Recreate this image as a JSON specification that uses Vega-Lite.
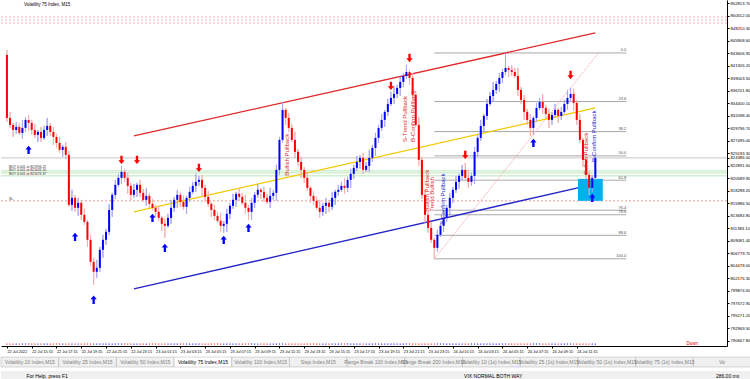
{
"$schema":"https://vega.github.io/schema/vega-lite/v6.json",
"padding":0,
"background":"#ffffff",
"spacing":3,
"config":{"view":{"stroke":null},"font":"Liberation Sans","text":{"font":"Liberation Sans"},
 "axis":{"grid":false,"labelFont":"Liberation Sans","labelColor":"#000000","tickColor":"#000000","domainColor":"#000000","domainWidth":1,"tickSize":2,"labelPadding":1,"labelFlush":false,"labelOverlap":false}},
"datasets":{
"candles":[
{"i":0,"o":843338,"h":844258,"l":831010,"c":831746},
{"i":1,"o":831746,"h":832850,"l":829906,"c":830458},
{"i":2,"o":830458,"h":830826,"l":828250,"c":829538},
{"i":3,"o":829538,"h":831010,"l":828802,"c":830090},
{"i":4,"o":830090,"h":830826,"l":828618,"c":828986},
{"i":5,"o":828986,"h":831378,"l":827882,"c":829906},
{"i":6,"o":829906,"h":831930,"l":829170,"c":831378},
{"i":7,"o":831378,"h":832298,"l":829354,"c":830826},
{"i":8,"o":830826,"h":831378,"l":828618,"c":829538},
{"i":9,"o":829538,"h":830642,"l":828066,"c":828618},
{"i":10,"o":828618,"h":829538,"l":827330,"c":829170},
{"i":11,"o":829170,"h":830090,"l":827330,"c":828066},
{"i":12,"o":828066,"h":830274,"l":827698,"c":829538},
{"i":13,"o":829538,"h":831746,"l":828434,"c":830274},
{"i":14,"o":830274,"h":830826,"l":828434,"c":829170},
{"i":15,"o":829170,"h":830090,"l":826778,"c":828250},
{"i":16,"o":828250,"h":828802,"l":826226,"c":827146},
{"i":17,"o":827146,"h":828250,"l":825306,"c":825858},
{"i":18,"o":825858,"h":826778,"l":824570,"c":826410},
{"i":19,"o":826410,"h":827330,"l":824202,"c":824938},
{"i":20,"o":824938,"h":825674,"l":815370,"c":815738},
{"i":21,"o":815738,"h":818498,"l":814634,"c":817026},
{"i":22,"o":817026,"h":817578,"l":814450,"c":815186},
{"i":23,"o":815186,"h":817026,"l":813714,"c":816106},
{"i":24,"o":816106,"h":816658,"l":812978,"c":813898},
{"i":25,"o":813898,"h":815002,"l":812058,"c":812610},
{"i":26,"o":812610,"h":812978,"l":808010,"c":809298},
{"i":27,"o":809298,"h":810218,"l":804514,"c":805250},
{"i":28,"o":805250,"h":805986,"l":801018,"c":803410},
{"i":29,"o":803410,"h":805618,"l":802306,"c":804146},
{"i":30,"o":804146,"h":808010,"l":803410,"c":807458},
{"i":31,"o":807458,"h":810218,"l":805986,"c":809298},
{"i":32,"o":809298,"h":811322,"l":808378,"c":810770},
{"i":33,"o":810770,"h":815922,"l":810218,"c":814818},
{"i":34,"o":814818,"h":817946,"l":813530,"c":817578},
{"i":35,"o":817578,"h":820338,"l":816842,"c":819418},
{"i":36,"o":819418,"h":821442,"l":819050,"c":820706},
{"i":37,"o":820706,"h":822914,"l":819602,"c":821810},
{"i":38,"o":821810,"h":822362,"l":819970,"c":820706},
{"i":39,"o":820706,"h":821626,"l":817762,"c":819234},
{"i":40,"o":819234,"h":819786,"l":816658,"c":817578},
{"i":41,"o":817578,"h":819602,"l":817026,"c":818498},
{"i":42,"o":818498,"h":819786,"l":817210,"c":819418},
{"i":43,"o":819418,"h":820338,"l":817210,"c":817946},
{"i":44,"o":817946,"h":818682,"l":816290,"c":816658},
{"i":45,"o":816658,"h":818866,"l":815554,"c":817394},
{"i":46,"o":817394,"h":817946,"l":815186,"c":815922},
{"i":47,"o":815922,"h":816842,"l":814818,"c":815186},
{"i":48,"o":815186,"h":815738,"l":813530,"c":814450},
{"i":49,"o":814450,"h":815554,"l":812794,"c":813346},
{"i":50,"o":813346,"h":813714,"l":810954,"c":812242},
{"i":51,"o":812242,"h":813162,"l":809666,"c":811874},
{"i":52,"o":811874,"h":814082,"l":811506,"c":813346},
{"i":53,"o":813346,"h":816658,"l":812242,"c":815186},
{"i":54,"o":815186,"h":817210,"l":814450,"c":816658},
{"i":55,"o":816658,"h":818498,"l":815186,"c":817578},
{"i":56,"o":817578,"h":818130,"l":815370,"c":816290},
{"i":57,"o":816290,"h":817394,"l":814818,"c":815370},
{"i":58,"o":815370,"h":817394,"l":814082,"c":817026},
{"i":59,"o":817026,"h":819050,"l":816290,"c":818130},
{"i":60,"o":818130,"h":819970,"l":817762,"c":819234},
{"i":61,"o":819234,"h":821442,"l":818130,"c":819970},
{"i":62,"o":819970,"h":821074,"l":819234,"c":820338},
{"i":63,"o":820338,"h":821258,"l":817394,"c":818866},
{"i":64,"o":818866,"h":819418,"l":816290,"c":817210},
{"i":65,"o":817210,"h":818314,"l":815370,"c":815922},
{"i":66,"o":815922,"h":816290,"l":813530,"c":814818},
{"i":67,"o":814818,"h":815738,"l":812978,"c":813714},
{"i":68,"o":813714,"h":814450,"l":812426,"c":812794},
{"i":69,"o":812794,"h":814266,"l":810770,"c":811874},
{"i":70,"o":811874,"h":812794,"l":810586,"c":812242},
{"i":71,"o":812242,"h":815002,"l":810770,"c":814082},
{"i":72,"o":814082,"h":816106,"l":813162,"c":815554},
{"i":73,"o":815554,"h":817762,"l":815002,"c":816658},
{"i":74,"o":816658,"h":818130,"l":815370,"c":817762},
{"i":75,"o":817762,"h":818682,"l":816474,"c":817210},
{"i":76,"o":817210,"h":817946,"l":815738,"c":816106},
{"i":77,"o":816106,"h":817578,"l":814082,"c":815186},
{"i":78,"o":815186,"h":815738,"l":812978,"c":814450},
{"i":79,"o":814450,"h":817026,"l":812978,"c":816106},
{"i":80,"o":816106,"h":818130,"l":815186,"c":817578},
{"i":81,"o":817578,"h":819602,"l":817026,"c":818498},
{"i":82,"o":818498,"h":818866,"l":816842,"c":818130},
{"i":83,"o":818130,"h":819050,"l":816290,"c":817026},
{"i":84,"o":817026,"h":817762,"l":815922,"c":816290},
{"i":85,"o":816290,"h":818866,"l":815186,"c":817394},
{"i":86,"o":817394,"h":818498,"l":816658,"c":817946},
{"i":87,"o":817946,"h":823098,"l":816474,"c":822178},
{"i":88,"o":822178,"h":828250,"l":821258,"c":827698},
{"i":89,"o":827698,"h":834690,"l":827146,"c":833218},
{"i":90,"o":833218,"h":833586,"l":830458,"c":831746},
{"i":91,"o":831746,"h":832666,"l":829170,"c":829906},
{"i":92,"o":829906,"h":830642,"l":827330,"c":827698},
{"i":93,"o":827698,"h":829170,"l":824386,"c":825490},
{"i":94,"o":825490,"h":826042,"l":822914,"c":823650},
{"i":95,"o":823650,"h":824570,"l":820706,"c":822178},
{"i":96,"o":822178,"h":822730,"l":819786,"c":820706},
{"i":97,"o":820706,"h":821810,"l":818314,"c":818866},
{"i":98,"o":818866,"h":819234,"l":816106,"c":817394},
{"i":99,"o":817394,"h":818314,"l":815738,"c":816474},
{"i":100,"o":816474,"h":817210,"l":814818,"c":815186},
{"i":101,"o":815186,"h":816658,"l":813346,"c":814450},
{"i":102,"o":814450,"h":816106,"l":813714,"c":815554},
{"i":103,"o":815554,"h":817026,"l":814082,"c":816106},
{"i":104,"o":816106,"h":816658,"l":814450,"c":815370},
{"i":105,"o":815370,"h":818130,"l":814818,"c":817026},
{"i":106,"o":817026,"h":818498,"l":815738,"c":818130},
{"i":107,"o":818130,"h":819418,"l":817394,"c":818498},
{"i":108,"o":818498,"h":819970,"l":818130,"c":819234},
{"i":109,"o":819234,"h":820706,"l":817762,"c":818866},
{"i":110,"o":818866,"h":820890,"l":818130,"c":820338},
{"i":111,"o":820338,"h":822362,"l":818866,"c":821442},
{"i":112,"o":821442,"h":823098,"l":820522,"c":822546},
{"i":113,"o":822546,"h":824754,"l":821994,"c":823650},
{"i":114,"o":823650,"h":824938,"l":822362,"c":824386},
{"i":115,"o":824386,"h":825306,"l":821442,"c":822178},
{"i":116,"o":822178,"h":823650,"l":821810,"c":822914},
{"i":117,"o":822914,"h":825858,"l":821810,"c":824386},
{"i":118,"o":824386,"h":826778,"l":823650,"c":826226},
{"i":119,"o":826226,"h":828986,"l":824754,"c":828066},
{"i":120,"o":828066,"h":830458,"l":827146,"c":829906},
{"i":121,"o":829906,"h":832482,"l":829354,"c":831378},
{"i":122,"o":831378,"h":833218,"l":830090,"c":832850},
{"i":123,"o":832850,"h":835242,"l":832114,"c":834322},
{"i":124,"o":834322,"h":836530,"l":833954,"c":835426},
{"i":125,"o":835426,"h":837634,"l":834322,"c":836162},
{"i":126,"o":836162,"h":837818,"l":835426,"c":837266},
{"i":127,"o":837266,"h":839290,"l":835794,"c":838370},
{"i":128,"o":838370,"h":840026,"l":837450,"c":839474},
{"i":129,"o":839474,"h":841498,"l":838922,"c":840210},
{"i":130,"o":840210,"h":840578,"l":837818,"c":839106},
{"i":131,"o":839106,"h":840026,"l":835242,"c":835978},
{"i":132,"o":835978,"h":836714,"l":830090,"c":830458},
{"i":133,"o":830458,"h":831930,"l":822914,"c":824018},
{"i":134,"o":824018,"h":824570,"l":816842,"c":817578},
{"i":135,"o":817578,"h":818498,"l":812426,"c":813898},
{"i":136,"o":813898,"h":814450,"l":810586,"c":811506},
{"i":137,"o":811506,"h":812610,"l":808746,"c":809298},
{"i":138,"o":809298,"h":809666,"l":805802,"c":807826},
{"i":139,"o":807826,"h":811138,"l":807090,"c":810218},
{"i":140,"o":810218,"h":812610,"l":809850,"c":811874},
{"i":141,"o":811874,"h":814818,"l":810770,"c":813346},
{"i":142,"o":813346,"h":815738,"l":812610,"c":815186},
{"i":143,"o":815186,"h":817946,"l":813714,"c":817026},
{"i":144,"o":817026,"h":819050,"l":816106,"c":818498},
{"i":145,"o":818498,"h":821074,"l":817946,"c":819970},
{"i":146,"o":819970,"h":821442,"l":818682,"c":821074},
{"i":147,"o":821074,"h":823098,"l":820338,"c":822178},
{"i":148,"o":822178,"h":823466,"l":820338,"c":820706},
{"i":149,"o":820706,"h":822178,"l":818866,"c":819970},
{"i":150,"o":819970,"h":821626,"l":819234,"c":821074},
{"i":151,"o":821074,"h":826410,"l":819602,"c":825490},
{"i":152,"o":825490,"h":828618,"l":824570,"c":828066},
{"i":153,"o":828066,"h":831378,"l":827514,"c":830274},
{"i":154,"o":830274,"h":832482,"l":828986,"c":832114},
{"i":155,"o":832114,"h":835242,"l":831378,"c":834322},
{"i":156,"o":834322,"h":836530,"l":833954,"c":835794},
{"i":157,"o":835794,"h":838370,"l":834690,"c":836898},
{"i":158,"o":836898,"h":838554,"l":836162,"c":838002},
{"i":159,"o":838002,"h":840026,"l":836530,"c":839106},
{"i":160,"o":839106,"h":840762,"l":838186,"c":840210},
{"i":161,"o":840210,"h":843706,"l":839658,"c":840946},
{"i":162,"o":840946,"h":841314,"l":839290,"c":840578},
{"i":163,"o":840578,"h":841498,"l":839474,"c":840210},
{"i":164,"o":840210,"h":840946,"l":839106,"c":839474},
{"i":165,"o":839474,"h":840946,"l":835794,"c":836898},
{"i":166,"o":836898,"h":837450,"l":834322,"c":835058},
{"i":167,"o":835058,"h":835978,"l":831378,"c":832850},
{"i":168,"o":832850,"h":833402,"l":830458,"c":831378},
{"i":169,"o":831378,"h":832482,"l":828434,"c":829906},
{"i":170,"o":829906,"h":832114,"l":828618,"c":831746},
{"i":171,"o":831746,"h":834506,"l":831010,"c":833586},
{"i":172,"o":833586,"h":835426,"l":833218,"c":834690},
{"i":173,"o":834690,"h":836162,"l":832482,"c":833586},
{"i":174,"o":833586,"h":834138,"l":831746,"c":832482},
{"i":175,"o":832482,"h":833402,"l":829906,"c":831378},
{"i":176,"o":831378,"h":832850,"l":830458,"c":832298},
{"i":177,"o":832298,"h":834322,"l":831746,"c":833218},
{"i":178,"o":833218,"h":833586,"l":830826,"c":832114},
{"i":179,"o":832114,"h":833770,"l":831378,"c":832850},
{"i":180,"o":832850,"h":835058,"l":832482,"c":834322},
{"i":181,"o":834322,"h":836898,"l":833218,"c":835426},
{"i":182,"o":835426,"h":837266,"l":834690,"c":836162},
{"i":183,"o":836162,"h":837082,"l":833034,"c":834506},
{"i":184,"o":834506,"h":835058,"l":830458,"c":831378},
{"i":185,"o":831378,"h":832482,"l":827146,"c":827698},
{"i":186,"o":827698,"h":828066,"l":822730,"c":824018},
{"i":187,"o":824018,"h":824938,"l":820522,"c":821258},
{"i":188,"o":821258,"h":821994,"l":817578,"c":818866},
{"i":189,"o":818866,"h":821258,"l":818130,"c":820706},
{"i":190,"o":820706,"h":824938,"l":820338,"c":824386}
],
"hl":[
{"k":"pend","p":850330},{"k":"pend","p":849778},{"k":"pend","p":849226},
{"k":"buy","p":821994},{"k":"buy","p":821626},{"k":"buy","p":821074},
{"k":"sl","p":816474},
{"k":"bid","p":824386}
],
"fib":[
{"lvl":"0.0","p":843706,"i0":138,"i1":200},
{"lvl":"23.6","p":834761,"i0":138,"i1":200},
{"lvl":"38.2","p":829227,"i0":138,"i1":200},
{"lvl":"50.0","p":824754,"i0":138,"i1":200},
{"lvl":"61.8","p":820281,"i0":138,"i1":200},
{"lvl":"76.4","p":814747,"i0":138,"i1":200},
{"lvl":"78.6","p":813913,"i0":138,"i1":200},
{"lvl":"88.6","p":810123,"i0":138,"i1":200},
{"lvl":"100.0","p":805802,"i0":138,"i1":200}
],
"ch":[
{"name":"red","i":41,"p":828434},{"name":"red","i":190,"p":847386},
{"name":"yellow","i":41,"p":814450},{"name":"yellow","i":190,"p":833586},
{"name":"blue","i":41,"p":800282},{"name":"blue","i":190,"p":819602}
],
"diag":[{"i":138,"p":805802},{"i":191,"p":843706}],
"box":[{"i0":184.4,"i1":192.4,"p0":820522,"p1":816474}],
"arrows":[
{"i":7,"p":825858,"d":"up"},{"i":22,"p":809850,"d":"up"},{"i":28,"p":798258,"d":"up"},
{"i":47,"p":813346,"d":"up"},{"i":51,"p":807826,"d":"up"},{"i":70,"p":809298,"d":"up"},
{"i":78,"p":811506,"d":"up"},{"i":170,"p":827146,"d":"up"},{"i":189,"p":817026,"d":"up"},
{"i":37,"p":824018,"d":"down"},{"i":42,"p":824018,"d":"down"},{"i":62,"p":822546,"d":"down"},
{"i":124,"p":837634,"d":"down"},{"i":130,"p":842786,"d":"down"},{"i":148,"p":824938,"d":"down"},
{"i":182,"p":839658,"d":"down"}
],
"notes":[
{"i":90.5,"p":821074,"t":"Bullish Pullback","k":"purple"},
{"i":128.4,"p":827330,"t":"S-Trend Pullback","k":"red"},
{"i":131,"p":827330,"t":"B-Confirm Pullback","k":"red"},
{"i":135.5,"p":814450,"t":"Bullish Pullback","k":"purple"},
{"i":137.2,"p":814450,"t":"Trend Bullish","k":"purple"},
{"i":140.8,"p":812058,"t":"B-Confirm Pullback","k":"blue"},
{"i":187,"p":821258,"t":"Bullish Pullback","k":"purple"},
{"i":189.5,"p":823650,"t":"B-Confirm Pullback","k":"blue"}
],
"labels":[
{"i":5.5,"p":852538,"t":"Volatility 75 Index, M15","k":"title"},
{"i":0.7,"p":822730,"t":"BUY 0.001 at 821994.22","k":"small"},
{"i":0.7,"p":822086,"t":"BUY 0.001 at 821626.10","k":"small"},
{"i":0.7,"p":821442,"t":"BUY 0.001 at 821074.37","k":"small"},
{"i":0.7,"p":816842,"t":"SL","k":"small"},
{"i":219.4,"p":790110,"t":"Down","k":"down"}
],
"tabs":[
{"tab":"Volatility 10 Index,M15"},{"tab":"Volatility 25 Index,M15"},{"tab":"Volatility 50 Index,M15"},
{"tab":"Volatility 75 Index,M15","active":true},{"tab":"Volatility 100 Index,M15"},{"tab":"Step Index,M15"},
{"tab":"Range Break 100 Index,M15"},{"tab":"Range Break 200 Index,M15"},{"tab":"Volatility 10 (1s) Index,M15"},
{"tab":"Volatility 25 (1s) Index,M15"},{"tab":"Volatility 50 (1s) Index,M15"},{"tab":"Volatility 75 (1s) Index,M15"},
{"tab":"Vo"}
],
"status":[
{"s":0,"t":"For Help, press F1"},{"s":10,"t":"VIX NORMAL BOTH WAY"},{"s":15,"t":"286.00 ms"}
]
},
"vconcat":[
{
"width":726,"height":346,
"resolve":{"axis":{"x":"independent","y":"independent"}},
"layer":[
{"data":{"name":"candles"},
 "mark":{"type":"rule","strokeWidth":1},
 "encoding":{
  "x":{"field":"i","type":"quantitative","scale":{"domain":[-0.3,230.9],"nice":false,"zero":false},
   "axis":{"title":null,"orient":"bottom","labelOverlap":false,"labelFlush":false,"labelAlign":"left","labelFontSize":3.8,"values":[0,8,16,24,32,40,48,56,64,72,80,88,96,104,112,120,128,136,144,152,160,168,176,184],
    "labelExpr":"datum.value==0?'22 Jul 2022':timeFormat(datetime(2022,6,22,13,15+datum.value*15),'%d %b %H:%M')"}},
  "y":{"field":"l","type":"quantitative","scale":{"domain":[789746,853458],"nice":false,"zero":false},
   "axis":{"title":null,"orient":"right","labelOverlap":false,"labelFlush":false,"labelFontSize":4.2,"values":[790667.8,792969.5,795271.2,797572.9,799874.6,802176.3,804478,806779.7,809081.4,811383.1,813684.8,815986.5,818288.2,820589.9,822891.6,824386,825193.3,827495,829796.7,832098.4,834400.1,836701.8,839003.5,841305.2,843606.9,845908.6,848210.3,850512,852813.7],
    "format":".2f"}},
  "y2":{"field":"h"},
  "color":{"condition":{"test":"datum.c>=datum.o","value":"#a9a9f2"},"value":"#f4b2b2"}}},
{"data":{"name":"hl"},"transform":[{"filter":"datum.k=='pend'"}],
 "mark":{"type":"rule","color":"#f4a0a0","strokeWidth":0.8,"strokeDash":[2,2]},
 "encoding":{"y":{"field":"p","type":"quantitative","scale":{"domain":[789746,853458],"nice":false,"zero":false},"axis":null}}},
{"data":{"name":"hl"},"transform":[{"filter":"datum.k=='buy'"}],
 "mark":{"type":"rule","color":"#a8e0a8","strokeWidth":0.8},
 "encoding":{"y":{"field":"p","type":"quantitative","scale":{"domain":[789746,853458],"nice":false,"zero":false},"axis":null}}},
{"data":{"name":"hl"},"transform":[{"filter":"datum.k=='sl'"}],
 "mark":{"type":"rule","color":"#f08080","strokeWidth":0.8,"strokeDash":[2,2]},
 "encoding":{"y":{"field":"p","type":"quantitative","scale":{"domain":[789746,853458],"nice":false,"zero":false},"axis":null}}},
{"data":{"name":"hl"},"transform":[{"filter":"datum.k=='bid'"}],
 "mark":{"type":"rule","color":"#b8b8b8","strokeWidth":0.8},
 "encoding":{"y":{"field":"p","type":"quantitative","scale":{"domain":[789746,853458],"nice":false,"zero":false},"axis":null}}},
{"data":{"name":"fib"},
 "mark":{"type":"rule","color":"#a8a8a8","strokeWidth":1},
 "encoding":{
  "x":{"field":"i0","type":"quantitative","scale":{"domain":[-0.3,230.9],"nice":false,"zero":false},"axis":null},
  "x2":{"field":"i1"},
  "y":{"field":"p","type":"quantitative","scale":{"domain":[789746,853458],"nice":false,"zero":false},"axis":null}}},
{"data":{"name":"fib"},
 "mark":{"type":"text","fontSize":4,"color":"#505050","align":"right","baseline":"bottom","dy":-0.5},
 "encoding":{
  "x":{"field":"i1","type":"quantitative","scale":{"domain":[-0.3,230.9],"nice":false,"zero":false},"axis":null},
  "y":{"field":"p","type":"quantitative","scale":{"domain":[789746,853458],"nice":false,"zero":false},"axis":null},
  "text":{"field":"lvl"}}},
{"data":{"name":"diag"},
 "mark":{"type":"line","color":"#f2a6a6","strokeWidth":0.8,"strokeDash":[2,1]},
 "encoding":{
  "x":{"field":"i","type":"quantitative","scale":{"domain":[-0.3,230.9],"nice":false,"zero":false},"axis":null},
  "y":{"field":"p","type":"quantitative","scale":{"domain":[789746,853458],"nice":false,"zero":false},"axis":null}}},
{"data":{"name":"ch"},
 "mark":{"type":"line","strokeWidth":1.3},
 "encoding":{
  "x":{"field":"i","type":"quantitative","scale":{"domain":[-0.3,230.9],"nice":false,"zero":false},"axis":null},
  "y":{"field":"p","type":"quantitative","scale":{"domain":[789746,853458],"nice":false,"zero":false},"axis":null},
  "color":{"field":"name","type":"nominal","scale":{"domain":["red","yellow","blue"],"range":["#e02828","#f5c800","#2424c8"]},"legend":null}}},
{"data":{"name":"box"},
 "mark":{"type":"rect","color":"#00b0f0"},
 "encoding":{
  "x":{"field":"i0","type":"quantitative","scale":{"domain":[-0.3,230.9],"nice":false,"zero":false},"axis":null},
  "x2":{"field":"i1"},
  "y":{"field":"p0","type":"quantitative","scale":{"domain":[789746,853458],"nice":false,"zero":false},"axis":null},
  "y2":{"field":"p1"}}},
{"data":{"name":"candles"},
 "mark":{"type":"rule","strokeWidth":1},
 "encoding":{
  "x":{"field":"i","type":"quantitative","scale":{"domain":[-0.3,230.9],"nice":false,"zero":false},"axis":null},
  "y":{"field":"l","type":"quantitative","scale":{"domain":[789746,853458],"nice":false,"zero":false},"axis":null},
  "y2":{"field":"h"},
  "color":{"condition":{"test":"datum.c>=datum.o","value":"#a9a9f2"},"value":"#f4b2b2"}}},
{"data":{"name":"candles"},
 "mark":{"type":"bar","width":2},
 "encoding":{
  "x":{"field":"i","type":"quantitative","scale":{"domain":[-0.3,230.9],"nice":false,"zero":false},"axis":null},
  "y":{"field":"o","type":"quantitative","scale":{"domain":[789746,853458],"nice":false,"zero":false},"axis":null},
  "y2":{"field":"c"},
  "color":{"condition":{"test":"datum.c>=datum.o","value":"#0000ff"},"value":"#ff0000"}}},
{"data":{"name":"candles"},
 "mark":{"type":"square","size":1.5,"opacity":1},
 "encoding":{
  "x":{"field":"i","type":"quantitative","scale":{"domain":[-0.3,230.9],"nice":false,"zero":false},"axis":null},
  "y":{"datum":790110,"type":"quantitative","scale":{"domain":[789746,853458],"nice":false,"zero":false},"axis":null},
  "color":{"condition":{"test":"datum.c>=datum.o","value":"#4040ff"},"value":"#ff4040"}}},
{"data":{"name":"arrows"},"transform":[{"filter":"datum.d=='up'"}],
 "mark":{"type":"point","filled":true,"opacity":1,"size":70,"color":"#0000ff","shape":"M0,-1L0.75,-0.1L0.28,-0.1L0.28,1L-0.28,1L-0.28,-0.1L-0.75,-0.1Z"},
 "encoding":{
  "x":{"field":"i","type":"quantitative","scale":{"domain":[-0.3,230.9],"nice":false,"zero":false},"axis":null},
  "y":{"field":"p","type":"quantitative","scale":{"domain":[789746,853458],"nice":false,"zero":false},"axis":null}}},
{"data":{"name":"arrows"},"transform":[{"filter":"datum.d=='down'"}],
 "mark":{"type":"point","filled":true,"opacity":1,"size":70,"color":"#ff0000","shape":"M0,1L0.75,0.1L0.28,0.1L0.28,-1L-0.28,-1L-0.28,0.1L-0.75,0.1Z"},
 "encoding":{
  "x":{"field":"i","type":"quantitative","scale":{"domain":[-0.3,230.9],"nice":false,"zero":false},"axis":null},
  "y":{"field":"p","type":"quantitative","scale":{"domain":[789746,853458],"nice":false,"zero":false},"axis":null}}},
{"data":{"name":"notes"},
 "mark":{"type":"text","angle":270,"align":"left","baseline":"middle","fontSize":6},
 "encoding":{
  "x":{"field":"i","type":"quantitative","scale":{"domain":[-0.3,230.9],"nice":false,"zero":false},"axis":null},
  "y":{"field":"p","type":"quantitative","scale":{"domain":[789746,853458],"nice":false,"zero":false},"axis":null},
  "text":{"field":"t"},
  "color":{"field":"k","type":"nominal","scale":{"domain":["purple","red","blue"],"range":["#8050a0","#c03838","#3a4a9a"]},"legend":null}}},
{"data":{"name":"labels"},"transform":[{"filter":"datum.k=='title'"}],
 "mark":{"type":"text","align":"left","baseline":"middle","fontSize":4.5,"color":"#000000"},
 "encoding":{
  "x":{"field":"i","type":"quantitative","scale":{"domain":[-0.3,230.9],"nice":false,"zero":false},"axis":null},
  "y":{"field":"p","type":"quantitative","scale":{"domain":[789746,853458],"nice":false,"zero":false},"axis":null},
  "text":{"field":"t"}}},
{"data":{"name":"labels"},"transform":[{"filter":"datum.k=='small'"}],
 "mark":{"type":"text","align":"left","baseline":"middle","fontSize":3.4,"color":"#303030"},
 "encoding":{
  "x":{"field":"i","type":"quantitative","scale":{"domain":[-0.3,230.9],"nice":false,"zero":false},"axis":null},
  "y":{"field":"p","type":"quantitative","scale":{"domain":[789746,853458],"nice":false,"zero":false},"axis":null},
  "text":{"field":"t"}}},
{"data":{"name":"labels"},"transform":[{"filter":"datum.k=='down'"}],
 "mark":{"type":"text","align":"left","baseline":"middle","fontSize":4.5,"color":"#e00000"},
 "encoding":{
  "x":{"field":"i","type":"quantitative","scale":{"domain":[-0.3,230.9],"nice":false,"zero":false},"axis":null},
  "y":{"field":"p","type":"quantitative","scale":{"domain":[789746,853458],"nice":false,"zero":false},"axis":null},
  "text":{"field":"t"}}}
]
},
{
"width":750,"height":10,
"data":{"name":"tabs"},
"view":{"fill":"#f0f0f0","stroke":null},
"layer":[
{"mark":{"type":"bar","stroke":"#b0b0b0","strokeWidth":0.5},
 "encoding":{
  "x":{"field":"tab","type":"nominal","sort":null,"axis":null,"scale":{"paddingInner":0,"paddingOuter":0}},
  "color":{"condition":{"test":"datum.active","value":"#ffffff"},"value":"#f0f0f0"}}},
{"mark":{"type":"text","fontSize":5,"baseline":"middle"},
 "encoding":{
  "x":{"field":"tab","type":"nominal","sort":null,"axis":null,"scale":{"paddingInner":0,"paddingOuter":0}},
  "text":{"field":"tab"},
  "color":{"condition":{"test":"datum.active","value":"#000000"},"value":"#808080"}}}
]
},
{
"width":750,"height":10,
"data":{"name":"status"},
"view":{"fill":"#f0f0f0","stroke":null},
"layer":[
{"transform":[{"filter":"datum.s==0"}],
 "mark":{"type":"text","fontSize":5,"align":"left","baseline":"middle","dx":2,"color":"#000000"},
 "encoding":{
  "x":{"field":"s","type":"ordinal","axis":null,"bandPosition":0,"scale":{"domain":[0,1,2,3,4,5,6,7,8,9,10,11,12,13,14,15],"paddingInner":0,"paddingOuter":0}},
  "text":{"field":"t"}}},
{"transform":[{"filter":"datum.s>0"}],
 "mark":{"type":"text","fontSize":5,"align":"center","baseline":"middle","color":"#000000"},
 "encoding":{
  "x":{"field":"s","type":"ordinal","axis":null,"bandPosition":0,"scale":{"domain":[0,1,2,3,4,5,6,7,8,9,10,11,12,13,14,15],"paddingInner":0,"paddingOuter":0}},
  "text":{"field":"t"}}}
]
}
]
}
